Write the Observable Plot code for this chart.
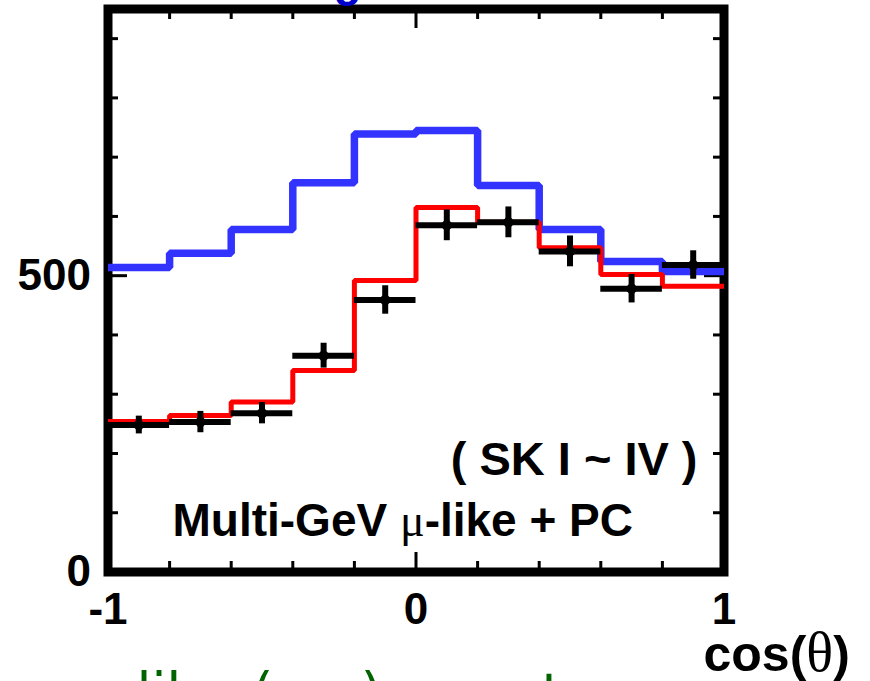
<!DOCTYPE html>
<html>
<head>
<meta charset="utf-8">
<script src="https://cdn.jsdelivr.net/npm/d3@7"></script>
<script src="https://cdn.jsdelivr.net/npm/@observablehq/plot@0.6"></script>
<style>
  html, body { margin: 0; padding: 0; background: #fff; overflow: hidden; }
  #chart svg { display: block; }
</style>
</head>
<body>
<div id="chart"></div>
<script>
// ---- data ----
const binLow    = [-1, -0.8, -0.6, -0.4, -0.2, 0, 0.2, 0.4, 0.6, 0.8];
const binHigh   = [-0.8, -0.6, -0.4, -0.2, 0, 0.2, 0.4, 0.6, 0.8, 1];
const binCenter = [-0.9, -0.7, -0.5, -0.3, -0.1, 0.1, 0.3, 0.5, 0.7, 0.9];
const noOscMC    = [514, 538, 578, 657, 739, 745, 652, 578, 524, 507]; // blue
const oscMC      = [254, 264, 287, 340, 492, 615, 590, 547, 502, 482]; // red
const dataCounts = [248, 253, 268, 365, 459, 585, 590, 541, 478, 518]; // black
const dataErr    = [15, 18, 18, 21, 24, 26, 26, 26, 24, 24];

const xMinorTicks = [-0.8, -0.6, -0.4, -0.2, 0.2, 0.4, 0.6, 0.8];
const xMajorTicks = [0];
const yMinorTicks = [100, 200, 300, 400, 600, 700, 800, 900];
const yMajorTicks = [500];
const xTickLabels = [-1, 0, 1];
const yTickLabels = [0, 500];

const xTitle = "cos(θ)";
const periodLabel = "( SK I ~ IV )";
const sampleLabel = "Multi-GeV μ-like + PC";
const lowerTitle = "like (νμ) events";
const upperTitle = "g";

// ---- tables built from the arrays ----
const last = binLow.length - 1;
const steps = vals => binLow.map((x, i) => ({x, y: vals[i]})).concat([{x: binHigh[last], y: vals[last]}]);
const blueSteps = steps(noOscMC);
const redSteps = steps(oscMC);
const points = binCenter.map((c, i) => ({c, lo: binLow[i], hi: binHigh[i], v: dataCounts[i], e: dataErr[i]}));

const W = 870, H = 681;
const mL = 107.5, mR = 146.5, mT = 8.5, mB = 109.5;
const innerW = W - mL - mR, innerH = H - mT - mB;
const minorLen = 10.5, majorLen = 19.5;

const sans = "'Liberation Sans', Arial, Helvetica, sans-serif";
const serif = "'Liberation Serif', 'Times New Roman', serif";

const plot = Plot.plot({
  width: W,
  height: H,
  marginLeft: mL, marginRight: mR, marginTop: mT, marginBottom: mB,
  style: {fontFamily: sans, fontWeight: "bold", fontSize: "44px", background: "#fff", overflow: "visible"},
  x: {domain: [-1, 1], label: null},
  y: {domain: [0, 950], label: null},
  marks: [
    Plot.frame({stroke: "#000", strokeWidth: 9}),
    // inward ticks: bottom, top, left, right
    Plot.tickX(xMinorTicks, {x: d => d, insetTop: innerH - minorLen, strokeWidth: 3}),
    Plot.tickX(xMinorTicks, {x: d => d, insetBottom: innerH - minorLen, strokeWidth: 3}),
    Plot.tickX(xMajorTicks, {x: d => d, insetTop: innerH - majorLen, strokeWidth: 3}),
    Plot.tickX(xMajorTicks, {x: d => d, insetBottom: innerH - majorLen, strokeWidth: 3}),
    Plot.tickY(yMinorTicks, {y: d => d, insetRight: innerW - minorLen, strokeWidth: 3}),
    Plot.tickY(yMinorTicks, {y: d => d, insetLeft: innerW - minorLen, strokeWidth: 3}),
    Plot.tickY(yMajorTicks, {y: d => d, insetRight: innerW - majorLen, strokeWidth: 3}),
    Plot.tickY(yMajorTicks, {y: d => d, insetLeft: innerW - majorLen, strokeWidth: 3}),
    // tick labels
    Plot.axisX(xTickLabels, {tickSize: 0, tickPadding: 20.5, tickFormat: d => String(d), label: null, fontSize: 44, fontWeight: "bold"}),
    Plot.axisY(yTickLabels, {tickSize: 0, tickPadding: 17, tickFormat: d => String(d), label: null, fontSize: 44, fontWeight: "bold"}),
    // histograms
    Plot.line(blueSteps, {x: "x", y: "y", curve: "step-after", stroke: "#3333ff", strokeWidth: 7.5, strokeLinejoin: "miter", strokeLinecap: "butt"}),
    Plot.line(redSteps, {x: "x", y: "y", curve: "step-after", stroke: "#ff0000", strokeWidth: 5, strokeLinejoin: "miter", strokeLinecap: "butt"}),
    // data points
    Plot.ruleY(points, {y: "v", x1: "lo", x2: "hi", stroke: "#000", strokeWidth: 6}),
    Plot.ruleX(points, {x: "c", y1: d => d.v - d.e, y2: d => d.v + d.e, stroke: "#000", strokeWidth: 6}),
    Plot.dot(points, {x: "c", y: "v", symbol: "diamond2", r: 6.5, fill: "#000", stroke: "none"}),
    // annotations
    Plot.text([periodLabel], {text: d => d, frameAnchor: "bottom-right", textAnchor: "end", lineAnchor: "bottom", dx: -26.5, dy: -97.5, fontSize: 47, fontWeight: "bold", fill: "#000"}),
    Plot.text([sampleLabel], {text: d => d, frameAnchor: "bottom-left", textAnchor: "start", lineAnchor: "bottom", dx: 64.5, dy: -36.5, fontSize: 46, fontWeight: "bold", fill: "#000"}),
    Plot.text([xTitle], {text: d => d, frameAnchor: "bottom-right", textAnchor: "start", lineAnchor: "bottom", dx: -20.5, dy: 99, fontSize: 50, fontWeight: "bold", fill: "#000"}),
    Plot.text([lowerTitle], {text: d => d, frameAnchor: "bottom-left", textAnchor: "start", lineAnchor: "bottom", dx: 28.5, dy: 139, fontSize: 54, fontWeight: "normal", fontFamily: "'DejaVu Sans', sans-serif", fill: "#006400"}),
    Plot.text([upperTitle], {text: d => d, frameAnchor: "top-left", textAnchor: "middle", lineAnchor: "bottom", dx: 239.5, dy: -13.5, fontSize: 46, fontWeight: "bold", fill: "#0000cc"})
  ]
});

// mixed-font rendering for Greek letters (serif Symbol-like glyphs in the original)
d3.select(plot).selectAll("text").each(function () {
  const t = this.textContent;
  const s = d3.select(this);
  if (t === sampleLabel) {
    s.text(null);
    s.append("tspan").text("Multi-GeV ");
    s.append("tspan").attr("font-family", serif).attr("font-weight", "normal").text("μ");
    s.append("tspan").text("-like + PC");
  } else if (t === xTitle) {
    s.text(null);
    s.append("tspan").text("cos(");
    s.append("tspan").attr("font-family", serif).attr("font-weight", "normal").attr("font-size", 56).text("θ");
    s.append("tspan").text(")");
  } else if (t === lowerTitle) {
    s.text(null);
    s.append("tspan").text("like");
    s.append("tspan").attr("dx", 6).text(" ( ");
    s.append("tspan").attr("dy", 12).text("ν");
    s.append("tspan").attr("font-size", 36).text("μ");
    s.append("tspan").attr("dy", -12).text(" )");
    s.append("tspan").attr("dx", 10).text(" events");
  }
});

document.getElementById("chart").appendChild(plot);
</script>
</body>
</html>
